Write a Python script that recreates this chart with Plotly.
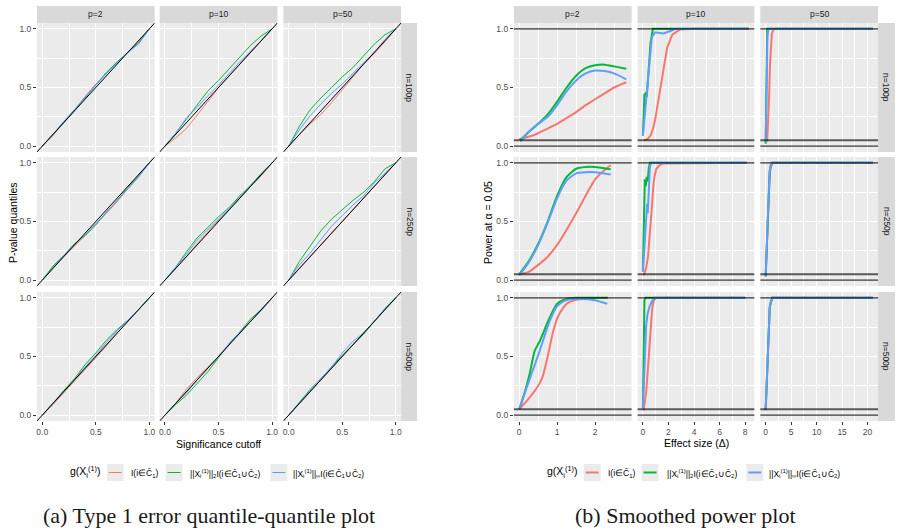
import plotly.graph_objects as go

# ---------------- DATA ----------------
p_labels = ["p=2", "p=10", "p=50"]
n_labels = ["n=100p", "n=250p", "n=500p"]
series_names = ["I(i∈Ĉ<sub>1</sub>)",
                "||X<sub>i</sub><sup>(1)</sup>||<sub>2</sub>I(i∈Ĉ<sub>1</sub>∪Ĉ<sub>2</sub>)",
                "||X<sub>i</sub><sup>(1)</sup>||<sub>∞</sub>I(i∈Ĉ<sub>1</sub>∪Ĉ<sub>2</sub>)"]
legend_title = "g(X<sub>i</sub><sup>(1)</sup>)"
qq_ticks = [0.0, 0.5, 1.0]
qq_ticktext = ["0.0", "0.5", "1.0"]
pw_ticks_p2 = [0, 1, 2]
pw_ticks_p10 = [0, 2, 4, 6, 8]
pw_ticks_p50 = [0, 5, 10, 15, 20]

# QQ plot (significance cutoff grid)
qq_x = [0.0, 0.1, 0.2, 0.3, 0.4, 0.5, 0.6, 0.7, 0.8, 0.9, 1.0]
qq_red_n100_p2 = [0, .09, .20, .30, .42, .53, .62, .71, .80, .89, 1]
qq_green_n100_p2 = [0, .10, .20, .31, .41, .52, .63, .72, .80, .88, 1]
qq_blue_n100_p2 = [0, .10, .21, .31, .42, .52, .62, .71, .80, .87, 1]
qq_red_n100_p10 = [0, .07, .15, .26, .38, .50, .60, .70, .80, .90, 1]
qq_green_n100_p10 = [0, .11, .23, .35, .47, .56, .66, .76, .86, .94, 1]
qq_blue_n100_p10 = [0, .11, .24, .33, .43, .52, .62, .72, .81, .90, 1]
qq_red_n100_p50 = [0, .10, .19, .27, .37, .48, .59, .70, .79, .89, 1]
qq_green_n100_p50 = [0, .17, .31, .41, .50, .59, .67, .77, .87, .95, 1]
qq_blue_n100_p50 = [0, .14, .26, .36, .45, .53, .62, .71, .80, .91, 1]

qq_red_n250_p2 = [0, .11, .20, .29, .38, .48, .57, .67, .78, .88, 1]
qq_green_n250_p2 = [0, .12, .21, .31, .38, .47, .58, .68, .79, .89, 1]
qq_blue_n250_p2 = [0, .11, .21, .30, .39, .48, .58, .68, .78, .88, 1]
qq_red_n250_p10 = [0, .10, .20, .31, .41, .51, .60, .70, .80, .89, 1]
qq_green_n250_p10 = [0, .11, .24, .36, .45, .54, .62, .72, .81, .91, 1]
qq_blue_n250_p10 = [0, .11, .22, .34, .43, .52, .61, .71, .80, .90, 1]
qq_red_n250_p50 = [0, .10, .20, .30, .40, .50, .60, .70, .80, .90, 1]
qq_green_n250_p50 = [0, .16, .29, .42, .52, .60, .68, .75, .84, .95, 1]
qq_blue_n250_p50 = [0, .13, .23, .35, .46, .55, .64, .72, .83, .91, 1]

qq_red_n500_p2 = [0, .09, .19, .29, .39, .49, .59, .70, .80, .90, 1]
qq_green_n500_p2 = [0, .10, .21, .31, .43, .53, .64, .73, .81, .90, 1]
qq_blue_n500_p2 = [0, .10, .20, .30, .41, .51, .62, .72, .81, .90, 1]
qq_red_n500_p10 = [0, .10, .22, .32, .41, .50, .61, .70, .80, .90, 1]
qq_green_n500_p10 = [0, .09, .17, .27, .37, .49, .61, .71, .82, .90, 1]
qq_blue_n500_p10 = [0, .10, .19, .30, .40, .50, .61, .71, .80, .89, 1]
qq_red_n500_p50 = [0, .10, .20, .30, .40, .50, .60, .70, .80, .90, 1]
qq_green_n500_p50 = [0, .11, .22, .31, .41, .51, .60, .69, .80, .91, 1]
qq_blue_n500_p50 = [0, .11, .21, .31, .41, .53, .63, .70, .80, .91, 1]

# Smoothed power curves
pw_red_n100_p2_x = [0, .25, .5, .75, 1, 1.25, 1.5, 1.75, 2, 2.25, 2.5, 2.82]
pw_red_n100_p2_y = [.06, .08, .11, .15, .19, .24, .29, .35, .40, .45, .50, .545]
pw_green_n100_p2_x = [0.03, .25, .5, .75, 1, 1.25, 1.5, 1.75, 2, 2.25, 2.5, 2.82]
pw_green_n100_p2_y = [.05, .12, .19, .27, .38, .50, .60, .665, .69, .695, .68, .66]
pw_blue_n100_p2_x = [0.03, .25, .5, .75, 1, 1.25, 1.5, 1.75, 2, 2.25, 2.5, 2.82]
pw_blue_n100_p2_y = [.04, .12, .19, .25, .35, .47, .56, .62, .645, .64, .62, .57]

pw_red_n100_p10_x = [0.1, 0.35, 0.6, 0.8, 0.95, 1.1, 1.25, 1.45, 1.65, 1.9, 2.3, 2.9, 4, 8.3]
pw_red_n100_p10_y = [.05, .06, .09, .15, .22, .32, .42, .55, .70, .84, .95, .995, 1, 1]
pw_green_n100_p10_x = [0, 0.12, 0.2, 0.3, 0.45, 0.6, 0.78, 1.0, 8.3]
pw_green_n100_p10_y = [.09, .44, .45, .42, .65, .88, 1.0, 1.0, 1.0]
pw_blue_n100_p10_x = [0, .18, .36, .52, .7, .95, 1.3, 1.6, 2.1, 2.6, 8.3]
pw_blue_n100_p10_y = [.09, .30, .50, .73, .93, .97, .965, .96, .98, 1, 1]

pw_red_n100_p50_x = [0.3, 0.5, 0.7, 0.85, 1.0, 1.2, 1.45, 1.8, 21]
pw_red_n100_p50_y = [.04, .2, .45, .7, .85, .95, .99, 1, 1]
pw_green_n100_p50_x = [0, 0.1, 0.2, 0.3, 21]
pw_green_n100_p50_y = [.02, .45, .85, 1, 1]
pw_blue_n100_p50_x = [0, 0.12, 0.25, 0.35, 0.5, 0.8, 21]
pw_blue_n100_p50_y = [.03, .35, .75, .93, .99, 1, 1]

pw_red_n250_p2_x = [0, .25, .5, .75, 1, 1.25, 1.5, 1.75, 2, 2.25, 2.41]
pw_red_n250_p2_y = [.05, .07, .13, .20, .30, .43, .57, .72, .86, .94, .98]
pw_green_n250_p2_x = [0, .25, .5, .75, 1, 1.25, 1.5, 1.75, 2, 2.25, 2.41]
pw_green_n250_p2_y = [.05, .16, .31, .50, .72, .88, .95, .965, .965, .955, .945]
pw_blue_n250_p2_x = [0, .25, .5, .75, 1, 1.25, 1.5, 1.75, 2, 2.25, 2.41]
pw_blue_n250_p2_y = [.04, .15, .30, .49, .70, .85, .91, .92, .92, .91, .90]

pw_red_n250_p10_x = [0.05, 0.25, 0.4, 0.5, 0.6, 0.7, 0.8, 0.9, 1.05, 1.3, 1.6, 8.1]
pw_red_n250_p10_y = [.04, .1, .2, .32, .44, .62, .78, .88, .95, .98, .995, 1]
pw_green_n250_p10_x = [0, 0.08, 0.15, 0.22, 0.3, 0.38, 0.45, 0.55, 8.1]
pw_green_n250_p10_y = [.08, .6, .86, .80, .88, .84, .95, 1, 1]
pw_blue_n250_p10_x = [0, 0.1, 0.2, 0.28, 0.33, 0.38, 0.45, 0.55, 0.67, 8.1]
pw_blue_n250_p10_y = [.07, .25, .45, .6, .65, .57, .75, .97, 1, 1]

pw_red_n250_p50_x = [0, 0.2, 0.4, 0.6, 0.8, 1.0, 1.3, 21]
pw_red_n250_p50_y = [.03, .23, .48, .73, .9, .96, 1, 1]
pw_green_n250_p50_x = [0, 0.2, 0.4, 0.6, 0.8, 1.0, 1.3, 21]
pw_green_n250_p50_y = [.04, .27, .52, .77, .93, .98, 1, 1]
pw_blue_n250_p50_x = [0, 0.15, 0.3, 0.45, 0.6, 0.75, 0.95, 1.2, 21]
pw_blue_n250_p50_y = [.03, .2, .4, .6, .8, .92, .97, 1, 1]

pw_red_n500_p2_x = [0, .25, .5, .62, .75, .9, 1.05, 1.25, 1.45, 1.8, 2.33]
pw_red_n500_p2_y = [.05, .14, .25, .33, .50, .72, .86, .95, .98, .995, 1.0]
pw_green_n500_p2_x = [0, .15, .28, .41, .54, .8, 1.0, 1.25, 1.5, 2.33]
pw_green_n500_p2_y = [.05, .2, .36, .55, .63, .83, .95, .99, 1.0, 1.0]
pw_blue_n500_p2_x = [0, .28, .54, .8, 1.0, 1.23, 1.58, 2.0, 2.32]
pw_blue_n500_p2_y = [.05, .31, .55, .80, .93, .98, .99, .98, .95]

pw_red_n500_p10_x = [0.05, 0.15, 0.26, 0.35, 0.44, 0.53, 0.62, 0.72, 0.82, 1.0, 8.0]
pw_red_n500_p10_y = [.04, .1, .2, .33, .49, .65, .8, .9, .97, 1, 1]
pw_green_n500_p10_x = [0, 0.04, 0.08, 0.12, 0.2, 8.0]
pw_green_n500_p10_y = [.07, .4, .8, .98, 1, 1]
pw_blue_n500_p10_x = [0, 0.1, 0.18, 0.26, 0.36, 0.5, 0.7, 0.95, 8.0]
pw_blue_n500_p10_y = [.06, .35, .6, .77, .86, .92, .97, 1, 1]

pw_red_n500_p50_x = [0, 0.15, 0.3, 0.45, 0.6, 0.8, 1.0, 1.3, 21]
pw_red_n500_p50_y = [.04, .2, .4, .6, .8, .91, .96, 1, 1]
pw_green_n500_p50_x = [0, 0.15, 0.3, 0.45, 0.6, 0.8, 1.0, 1.3, 21]
pw_green_n500_p50_y = [.05, .22, .42, .62, .82, .92, .96, 1, 1]
pw_blue_n500_p50_x = [0, 0.15, 0.3, 0.45, 0.6, 0.8, 1.0, 1.3, 21]
pw_blue_n500_p50_y = [.05, .22, .42, .62, .82, .92, .96, 1, 1]

power_hlines = [0.0, 0.05, 1.0]

# ---------------- STYLE / LAYOUT ----------------
W, H = 902, 532
COLORS = ["#F8766D", "#00BA38", "#619CFF"]
FONT = "Liberation Sans, Arial, sans-serif"
TICK_FONT = dict(family=FONT, size=8.5, color="#4D4D4D")
HLINE_STYLE = {0.0: ("rgba(0,0,0,0.78)", 1.3), 0.05: ("rgba(0,0,0,0.62)", 2.0), 1.0: ("rgba(0,0,0,0.8)", 1.3)}


def fx(x):
    return x / W


def fy(y):
    return 1 - y / H


cols_left = [(36, 154), (159, 277), (283, 401)]
cols_right = [(514, 632), (638, 755), (761, 879)]
rows_px = [(23, 152), (157, 286), (292, 421)]

qq_panels = [
    [(qq_red_n100_p2, qq_green_n100_p2, qq_blue_n100_p2),
     (qq_red_n100_p10, qq_green_n100_p10, qq_blue_n100_p10),
     (qq_red_n100_p50, qq_green_n100_p50, qq_blue_n100_p50)],
    [(qq_red_n250_p2, qq_green_n250_p2, qq_blue_n250_p2),
     (qq_red_n250_p10, qq_green_n250_p10, qq_blue_n250_p10),
     (qq_red_n250_p50, qq_green_n250_p50, qq_blue_n250_p50)],
    [(qq_red_n500_p2, qq_green_n500_p2, qq_blue_n500_p2),
     (qq_red_n500_p10, qq_green_n500_p10, qq_blue_n500_p10),
     (qq_red_n500_p50, qq_green_n500_p50, qq_blue_n500_p50)],
]
pw_panels = [
    [((pw_red_n100_p2_x, pw_red_n100_p2_y), (pw_green_n100_p2_x, pw_green_n100_p2_y), (pw_blue_n100_p2_x, pw_blue_n100_p2_y)),
     ((pw_red_n100_p10_x, pw_red_n100_p10_y), (pw_green_n100_p10_x, pw_green_n100_p10_y), (pw_blue_n100_p10_x, pw_blue_n100_p10_y)),
     ((pw_red_n100_p50_x, pw_red_n100_p50_y), (pw_green_n100_p50_x, pw_green_n100_p50_y), (pw_blue_n100_p50_x, pw_blue_n100_p50_y))],
    [((pw_red_n250_p2_x, pw_red_n250_p2_y), (pw_green_n250_p2_x, pw_green_n250_p2_y), (pw_blue_n250_p2_x, pw_blue_n250_p2_y)),
     ((pw_red_n250_p10_x, pw_red_n250_p10_y), (pw_green_n250_p10_x, pw_green_n250_p10_y), (pw_blue_n250_p10_x, pw_blue_n250_p10_y)),
     ((pw_red_n250_p50_x, pw_red_n250_p50_y), (pw_green_n250_p50_x, pw_green_n250_p50_y), (pw_blue_n250_p50_x, pw_blue_n250_p50_y))],
    [((pw_red_n500_p2_x, pw_red_n500_p2_y), (pw_green_n500_p2_x, pw_green_n500_p2_y), (pw_blue_n500_p2_x, pw_blue_n500_p2_y)),
     ((pw_red_n500_p10_x, pw_red_n500_p10_y), (pw_green_n500_p10_x, pw_green_n500_p10_y), (pw_blue_n500_p10_x, pw_blue_n500_p10_y)),
     ((pw_red_n500_p50_x, pw_red_n500_p50_y), (pw_green_n500_p50_x, pw_green_n500_p50_y), (pw_blue_n500_p50_x, pw_blue_n500_p50_y))],
]
pw_col_ticks = [pw_ticks_p2, pw_ticks_p10, pw_ticks_p50]

fig = go.Figure()
layout = {}
shapes = []
annotations = []


def expand(lo, hi, f=0.05):
    s = hi - lo
    return [lo - f * s, hi + f * s]


def minor_vals(ticks):
    step = ticks[1] - ticks[0]
    return [t + step / 2 for t in ticks] + [ticks[0] - step / 2]


def add_axes(k, xpx, ypx, xrange, xticks, xticktext, show_x, show_y):
    name = "" if k == 1 else str(k)
    layout["xaxis" + name] = dict(
        domain=[fx(xpx[0]), fx(xpx[1])], range=xrange, anchor="y" + name,
        tickmode="array", tickvals=xticks, ticktext=xticktext,
        showgrid=True, gridcolor="white", gridwidth=1.1,
        minor=dict(tickvals=minor_vals(xticks), showgrid=True, gridcolor="white", gridwidth=0.5, ticks=""),
        zeroline=False, showline=False, fixedrange=True,
        ticks="outside" if show_x else "", ticklen=3, tickwidth=1, tickcolor="#333333",
        showticklabels=show_x, tickfont=TICK_FONT)
    layout["yaxis" + name] = dict(
        domain=[fy(ypx[1]), fy(ypx[0])], range=[-0.05, 1.05], anchor="x" + name,
        tickmode="array", tickvals=qq_ticks, ticktext=qq_ticktext,
        showgrid=True, gridcolor="white", gridwidth=1.1,
        minor=dict(tickvals=[0.25, 0.75], showgrid=True, gridcolor="white", gridwidth=0.5, ticks=""),
        zeroline=False, showline=False, fixedrange=True,
        ticks="outside" if show_y else "", ticklen=3, tickwidth=1, tickcolor="#333333",
        showticklabels=show_y, tickfont=TICK_FONT)
    return name


# Left: QQ plots
k = 0
for r in range(3):
    for c in range(3):
        k += 1
        name = add_axes(k, cols_left[c], rows_px[r], expand(0, 1), qq_ticks, qq_ticktext, r == 2, c == 0)
        for s in range(3):
            fig.add_trace(go.Scatter(x=qq_x, y=qq_panels[r][c][s], mode="lines",
                                     line=dict(color=COLORS[s], width=1),
                                     xaxis="x" + name, yaxis="y" + name,
                                     showlegend=False, hoverinfo="skip"))
        fig.add_trace(go.Scatter(x=[-0.06, 1.06], y=[-0.06, 1.06], mode="lines",
                                 line=dict(color="black", width=1),
                                 xaxis="x" + name, yaxis="y" + name,
                                 showlegend=False, hoverinfo="skip"))

# Right: power plots
col_max = [max(max(pw_panels[r][c][s][0]) for r in range(3) for s in range(3)) for c in range(3)]
for r in range(3):
    for c in range(3):
        k += 1
        ticks = pw_col_ticks[c]
        name = add_axes(k, cols_right[c], rows_px[r], expand(0, col_max[c]), ticks,
                        [str(t) for t in ticks], r == 2, c == 0)
        for s in range(3):
            xs, ys = pw_panels[r][c][s]
            if c == 0:
                ln = dict(color=COLORS[s], width=2, shape="spline", smoothing=0.6)
            else:
                ln = dict(color=COLORS[s], width=2)
            fig.add_trace(go.Scatter(x=xs, y=ys, mode="lines", line=ln,
                                     xaxis="x" + name, yaxis="y" + name,
                                     showlegend=False, hoverinfo="skip"))
        for hv in power_hlines:
            col, wd = HLINE_STYLE[hv]
            shapes.append(dict(type="line", xref="x" + name + " domain", yref="y" + name,
                               x0=0, x1=1, y0=hv, y1=hv, layer="above",
                               line=dict(color=col, width=wd)))

# Strips
STRIP_FONT = dict(family=FONT, size=8.5, color="#1A1A1A")
for cols, right_x in ((cols_left, (401, 417)), (cols_right, (879, 896))):
    for c in range(3):
        shapes.append(dict(type="rect", xref="paper", yref="paper",
                           x0=fx(cols[c][0]), x1=fx(cols[c][1]), y0=fy(23), y1=fy(6),
                           fillcolor="#D9D9D9", line=dict(width=0), layer="below"))
        annotations.append(dict(text=p_labels[c], xref="paper", yref="paper",
                                x=fx((cols[c][0] + cols[c][1]) / 2), y=fy(14.5),
                                showarrow=False, font=STRIP_FONT, xanchor="center", yanchor="middle"))
    for r in range(3):
        shapes.append(dict(type="rect", xref="paper", yref="paper",
                           x0=fx(right_x[0]), x1=fx(right_x[1]), y0=fy(rows_px[r][1]), y1=fy(rows_px[r][0]),
                           fillcolor="#D9D9D9", line=dict(width=0), layer="below"))
        annotations.append(dict(text=n_labels[r], xref="paper", yref="paper",
                                x=fx((right_x[0] + right_x[1]) / 2), y=fy((rows_px[r][0] + rows_px[r][1]) / 2),
                                showarrow=False, font=STRIP_FONT, textangle=90,
                                xanchor="center", yanchor="middle"))

TITLE_FONT = dict(family=FONT, size=10.5, color="black")
annotations += [
    dict(text="Significance cutoff", xref="paper", yref="paper", x=fx(218), y=fy(444),
         showarrow=False, font=TITLE_FONT, xanchor="center", yanchor="middle"),
    dict(text="Effect size (Δ)", xref="paper", yref="paper", x=fx(697), y=fy(443),
         showarrow=False, font=TITLE_FONT, xanchor="center", yanchor="middle"),
    dict(text="P-value quantiles", xref="paper", yref="paper", x=fx(12), y=fy(222),
         showarrow=False, font=TITLE_FONT, textangle=-90, xanchor="center", yanchor="middle"),
    dict(text="Power at α = 0.05", xref="paper", yref="paper", x=fx(488), y=fy(222),
         showarrow=False, font=TITLE_FONT, textangle=-90, xanchor="center", yanchor="middle"),
]

# Legends
LEG_FONT = dict(family=FONT, size=8.5, color="black")
legend_specs = [
    (67, [106, 165, 270], [128, 187, 291], 1.0),
    (545, [584, 642, 747], [606, 665, 768], 2.0),
]
for title_x, key_xs, text_xs, lw in legend_specs:
    annotations.append(dict(text=legend_title, xref="paper", yref="paper", x=fx(title_x), y=fy(472),
                            showarrow=False, font=TITLE_FONT, xanchor="left", yanchor="middle"))
    for s in range(3):
        kx = key_xs[s]
        shapes.append(dict(type="rect", xref="paper", yref="paper",
                           x0=fx(kx), x1=fx(kx + 17), y0=fy(481), y1=fy(464),
                           fillcolor="#EBEBEB", line=dict(width=0)))
        shapes.append(dict(type="line", xref="paper", yref="paper",
                           x0=fx(kx + 2), x1=fx(kx + 15), y0=fy(472.5), y1=fy(472.5),
                           line=dict(color=COLORS[s], width=lw)))
        annotations.append(dict(text=series_names[s], xref="paper", yref="paper",
                                x=fx(text_xs[s]), y=fy(473), showarrow=False, font=LEG_FONT,
                                xanchor="left", yanchor="middle"))

# Captions
CAP_FONT = dict(family="Liberation Serif, Times New Roman, serif", size=22, color="#1A1A1A")
annotations += [
    dict(text="(a) Type 1 error quantile-quantile plot", xref="paper", yref="paper",
         x=fx(208), y=fy(515), showarrow=False, font=CAP_FONT, xanchor="center", yanchor="middle"),
    dict(text="(b) Smoothed power plot", xref="paper", yref="paper",
         x=fx(686), y=fy(515), showarrow=False, font=CAP_FONT, xanchor="center", yanchor="middle"),
]

fig.update_layout(**layout)
fig.update_layout(width=W, height=H, margin=dict(l=0, r=0, t=0, b=0),
                  paper_bgcolor="white", plot_bgcolor="#EBEBEB",
                  shapes=shapes, annotations=annotations, showlegend=False,
                  font=dict(family=FONT))
fig.write_html("out.html")
